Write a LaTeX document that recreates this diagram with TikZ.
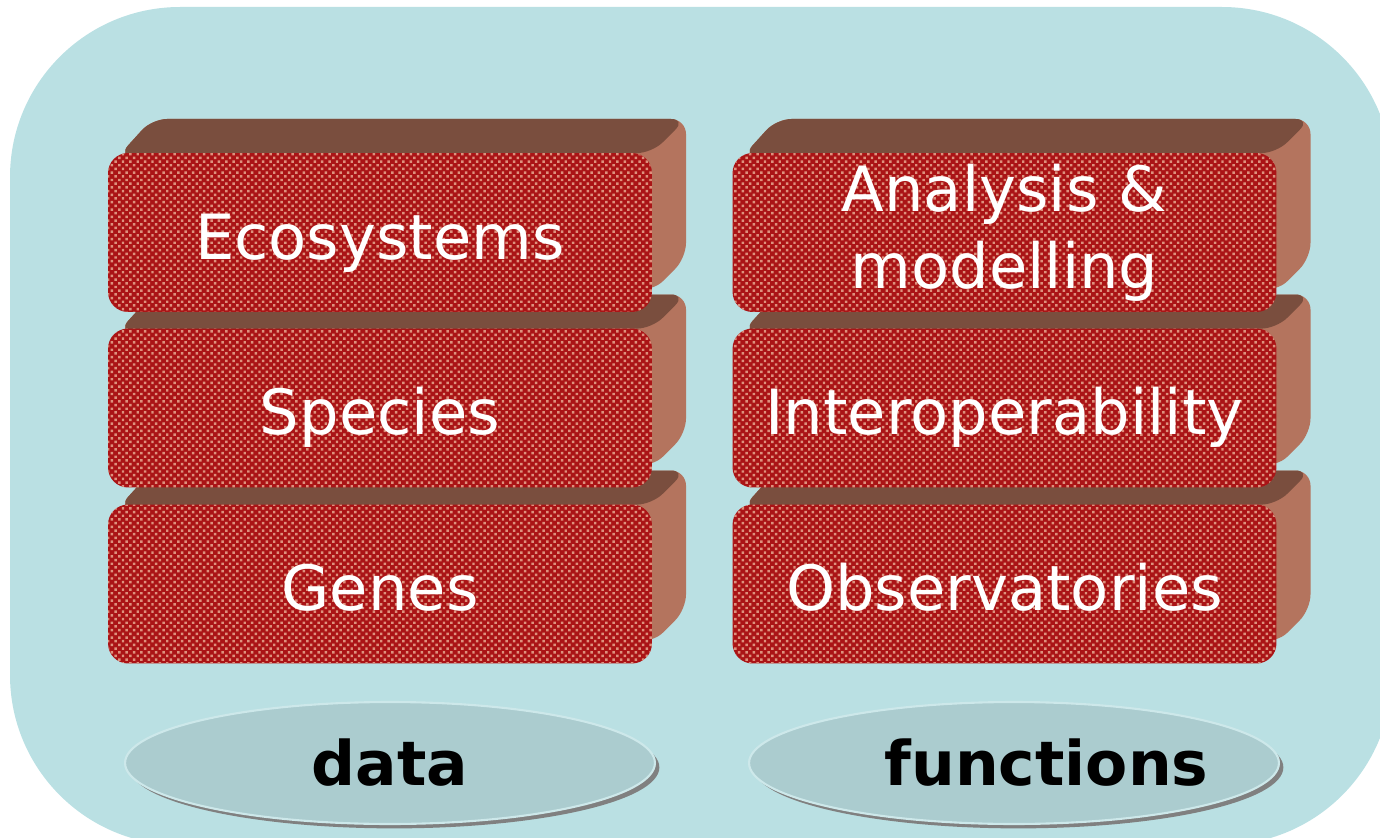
\documentclass[tikz,border=0pt]{standalone}
\usepackage{fontspec}
\setmainfont{DejaVu Sans}
\usepackage{tikz}
\usetikzlibrary{shapes,shadows,patterns,calc}

\definecolor{bgblue}{RGB}{186,224,227}
\definecolor{slabred}{RGB}{170,20,22}
\definecolor{dotpink}{RGB}{222,145,125}
\definecolor{topbrown}{RGB}{122,78,62}
\definecolor{sidebrown}{RGB}{180,116,94}
\definecolor{basefill}{RGB}{171,204,207}
\definecolor{baseedge}{RGB}{205,232,234}
\definecolor{shadowgray}{RGB}{128,128,128}

\pgfdeclarepatternformonly{slabdots}{\pgfpoint{-1pt}{-1pt}}{\pgfpoint{5.2pt}{5.2pt}}{\pgfpoint{4.2pt}{4.2pt}}{
  \pgfpathrectangle{\pgfpoint{0pt}{0pt}}{\pgfpoint{1.4pt}{1.4pt}}
  \pgfpathrectangle{\pgfpoint{2.1pt}{2.1pt}}{\pgfpoint{1.4pt}{1.4pt}}
  \pgfusepath{fill}}

\begin{document}
\begin{tikzpicture}[x=0.02cm,y=-0.02cm,
    slab/.style={rectangle,rounded corners=0.4cm,minimum width=10.88cm,minimum height=3.18cm,
      fill=slabred,postaction={pattern=slabdots,pattern color=dotpink},
      text=white,align=center,font=\fontsize{35.5}{44}\selectfont,
      text height=1.2cm,text depth=0.13cm},
    base/.style={ellipse,minimum width=10.6cm,minimum height=2.44cm,fill=basefill,
      draw=baseedge,line width=1.2pt,font=\fontsize{35}{42}\selectfont\bfseries,
      drop shadow={shadow xshift=2.5pt,shadow yshift=-2.5pt,opacity=1,fill=shadowgray,draw=none}},
    sideface/.style={fill=sidebrown,rounded corners=0.3cm},
    topface/.style={fill=topbrown,rounded corners=0.3cm}]
  \useasboundingbox (0,0) rectangle (1380,838);
  \fill[bgblue,rounded corners=3.4cm] (10,7) rectangle (1392,845);

  % back and top faces, lowest row first
  \foreach \cy in {584,408,232.5}
    \foreach \cx in {380,1004.5} {
      \path[sideface] ({\cx-262},{\cy-76}) -- ({\cx-228},{\cy-113.5}) -- ({\cx+306},{\cy-113.5})
        -- ({\cx+306},{\cy+25.5}) -- ({\cx+272},{\cy+59.5}) -- cycle;
      \path[topface] ({\cx-262},{\cy-76}) -- ({\cx-228},{\cy-113.5}) -- ({\cx+306},{\cy-113.5})
        -- ({\cx+272},{\cy-79.5}) -- cycle;
    }

  % data column
  \node[slab] (genes) at (380,584) {Genes};
  \node[slab] (species) at (380,408) {Species};
  \node[slab] (eco) at (380,232.5) {Ecosystems};

  % functions column
  \node[slab] (obs) at (1004.5,584) {Observatories};
  \node[slab] (interop) at (1004.5,408) {Interoperability};
  \node[slab,text height={},text depth={}] (analysis) at (1004.5,232.5) {Analysis \&\\modelling};

  \node[base] (data) at (390,763) {data};
  \node[base] (functions) at (1014,763) {\hspace*{1.3cm}\makebox[0pt]{functions}};
\end{tikzpicture}
\end{document}
